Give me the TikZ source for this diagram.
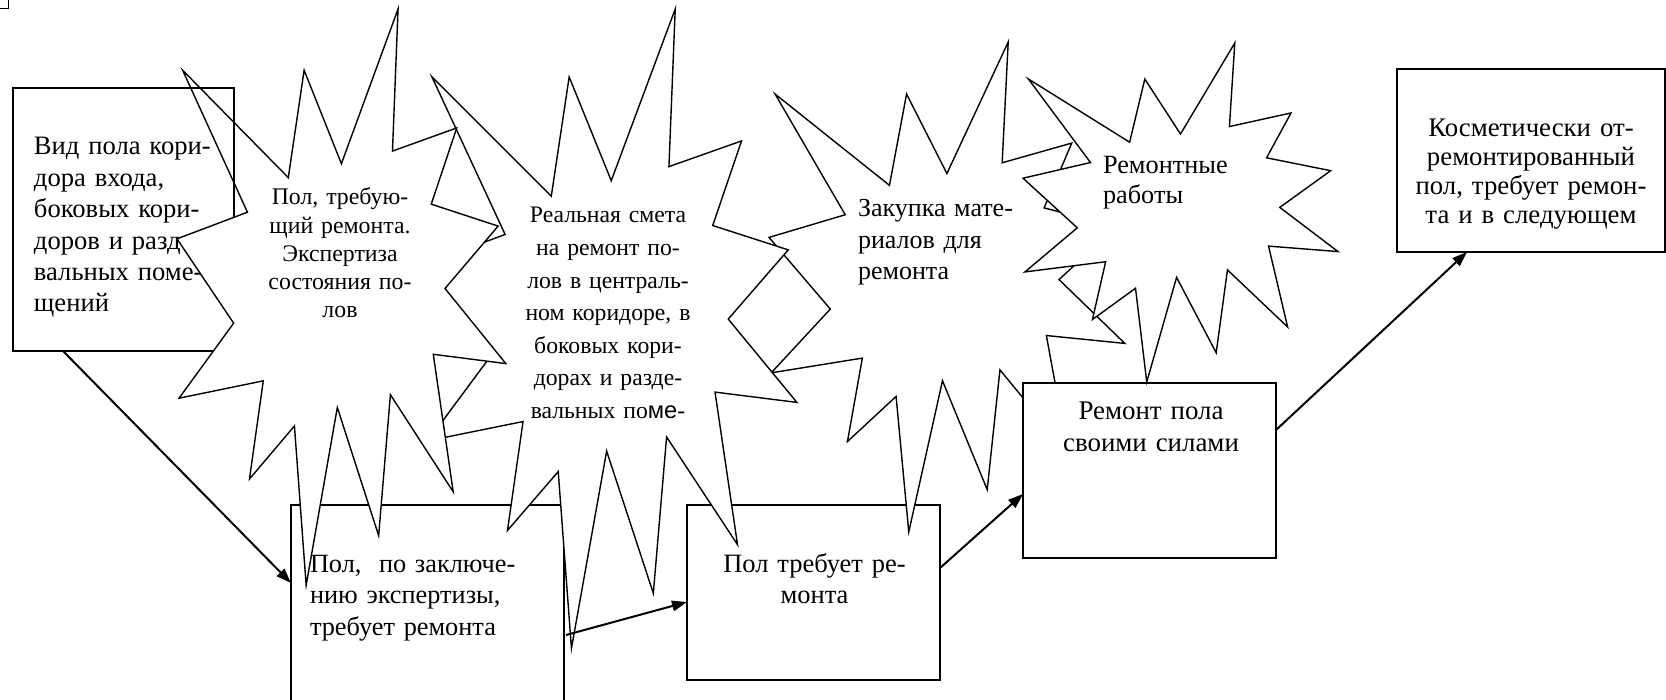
\documentclass[tikz,border=0pt]{standalone}
\usepackage{fontspec}
\setmainfont{Liberation Serif}
\newfontfamily\arialf{Liberation Sans}
\usetikzlibrary{arrows.meta}
\newcommand{\sealoutline}[1]{\path[#1] (10.8,5.8) -- (14.522,0) -- (14.155,5.325) -- (18.38,4.457) -- (16.702,7.315) -- (21.097,8.137) -- (17.607,10.475) -- (21.6,13.29) -- (16.837,12.942) -- (18.145,18.095) -- (14.02,14.457) -- (13.247,19.737) -- (10.532,14.935) -- (8.485,21.6) -- (7.715,15.627) -- (4.762,17.617) -- (5.667,13.937) -- (0.135,14.587) -- (3.722,11.775) -- (0,8.615) -- (4.627,7.617) -- (0.37,2.295) -- (7.312,6.32) -- (8.352,2.295) -- cycle;}
\newcommand{\explosion}[4]{\begin{scope}[shift={(#1,#2)},xscale=#3/21.6,yscale=#4/21.6]\sealoutline{seal}\end{scope}}
\begin{document}
\begin{tikzpicture}[x=1pt,y=-1pt,
  seal/.style={draw=black,fill=white,line width=1.4pt,line join=miter},
  box/.style={draw=black,fill=white,line width=1.4pt,inner sep=0pt,outer sep=0pt,anchor=north west},
  txt/.style={inner sep=0pt,outer sep=0pt,text width=#1},
  conn/.style={line width=2pt,-{Triangle[length=15pt,width=10.5pt]}}
]
\useasboundingbox (0,0) rectangle (1666,700);
\clip (0,0) rectangle (1666,700);
\fill[white] (0,0) rectangle (1666,700);

% corner mark
\draw[line width=1.6pt] (8.5,0) -- (8.5,8.5) -- (0,8.5);

% Box A
\node[box,minimum width=221pt,minimum height=263pt] (boxA) at (13,88) {};
\node[txt=220pt,anchor=base west,align=left,font=\fontsize{26.6}{31.4}\selectfont] (tA) at (34,155)
  {Вид пола кори-\\дора входа,\\боковых кори-\\доров и разде-\\вальных поме-\\щений};

% Box B and C
\node[box,minimum width=273pt,minimum height=230pt] (boxB) at (291,505) {};
\node[txt=260pt,anchor=base west,align=left,font=\fontsize{26.3}{31.7}\selectfont] (tB) at (310,572)
  {Пол,~~по заключе-\\нию экспертизы,\\требует ремонта};
\node[box,minimum width=253pt,minimum height=175pt] (boxC) at (687,505) {};
\node[txt=250pt,anchor=base,align=center,font=\fontsize{26.5}{31.6}\selectfont] (tC) at (814.5,572)
  {Пол требует ре-\\монта};

% Explosion 3
\explosion{769}{42}{355.8}{489.9}
\node[txt=240pt,anchor=base west,align=left,font=\fontsize{26}{31.7}\selectfont] (tE3) at (858,216.5)
  {Закупка мате-\\риалов для\\ремонта};

% Explosion 2
\explosion{425.6}{9}{371.3}{639.4}
\node[txt=240pt,anchor=base,align=center,font=\fontsize{23.7}{32.6}\selectfont] (tE2) at (608,223)
  {Реальная смета\\на ремонт по-\\лов в централь-\\ном коридоре, в\\боковых кори-\\дорах и разде-\\вальных по{\arialf ме}-};

% Explosion 1 (upper-left spike left unfilled)
\begin{scope}[shift={(177,9)},xscale=328.8/21.6,yscale=576.3/21.6]
\fill[white] (10.8,5.8) -- (14.522,0) -- (14.155,5.325) -- (18.38,4.457) -- (16.702,7.315) -- (21.097,8.137) -- (17.607,10.475) -- (21.6,13.29) -- (16.837,12.942) -- (18.145,18.095) -- (14.02,14.457) -- (13.247,19.737) -- (10.532,14.935) -- (8.485,21.6) -- (7.715,15.627) -- (4.762,17.617) -- (5.667,13.937) -- (0.135,14.587) -- (3.722,11.775) -- (0,8.615) -- (4.627,7.617) -- (7.312,6.32) -- (8.352,2.295) -- cycle;
\sealoutline{draw=black,line width=1.4pt,line join=miter}
\end{scope}
\node[txt=200pt,anchor=base,align=center,font=\fontsize{23.8}{28.2}\selectfont] (tE1) at (340,205)
  {Пол, требую-\\щий ремонта.\\Экспертиза\\состояния по-\\лов};

% Box D
\node[box,minimum width=253pt,minimum height=175pt] (boxD) at (1023,383) {};
\node[txt=250pt,anchor=base,align=center,font=\fontsize{26.9}{31.7}\selectfont] (tD) at (1151,420)
  {Ремонт пола\\своими силами};

% Explosion 4
\explosion{1023}{43}{315}{339}
\node[txt=200pt,anchor=base west,align=left,font=\fontsize{26.3}{30}\selectfont] (tE4) at (1103,174)
  {Ремонтные\\работы};

% Box E
\node[box,minimum width=268pt,minimum height=183pt] (boxE) at (1397,69) {};
\node[txt=266pt,anchor=base,align=center,font=\fontsize{26.8}{28.8}\selectfont] (tE) at (1531,137)
  {Косметически от-\\ремонтированный\\пол, требует ремон-\\та и в следующем};

% connectors
\coordinate (a2s) at (566,635);
\draw[conn] ([xshift=50pt]boxA.south west) -- ([yshift=-78pt]boxB.north west);
\draw[conn] (a2s) -- ([yshift=-97pt]boxC.north west);
\draw[conn] ([yshift=-63pt]boxC.north east) -- ([yshift=-111pt]boxD.north west);
\draw[conn] ([yshift=-47pt]boxD.north east) -- ([xshift=70pt]boxE.south west);
\end{tikzpicture}
\end{document}
